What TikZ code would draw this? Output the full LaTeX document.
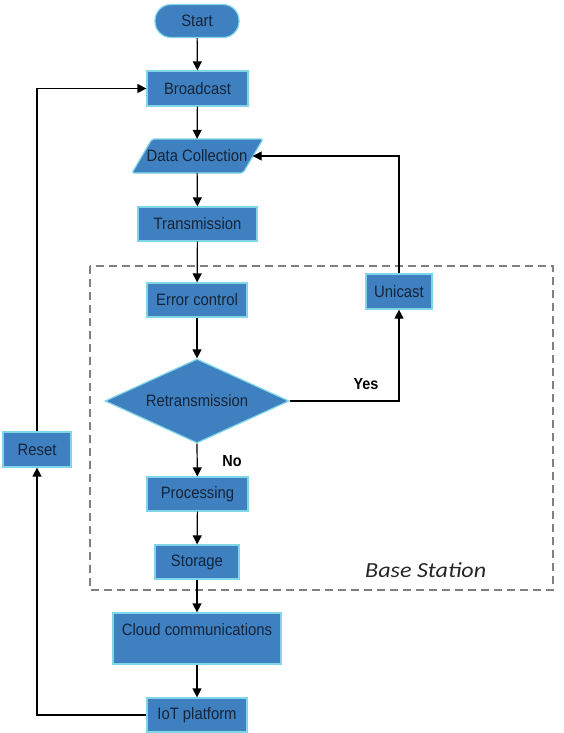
\documentclass[tikz,border=0pt]{standalone}
\usepackage{fontspec}
\setmainfont{Liberation Sans}[FakeStretch=0.9]
\newfontfamily\calib{Carlito}[FakeStretch=1.12]
\usetikzlibrary{arrows.meta,shapes.geometric}
\definecolor{boxfill}{HTML}{3F80C0}
\definecolor{boxline}{HTML}{7FD6E6}
\definecolor{boxtext}{HTML}{14243A}
\definecolor{dashgray}{HTML}{808080}
\tikzset{
  box/.style={draw=boxline, fill=boxfill, line width=1.2pt, inner sep=0pt,
    text=boxtext, font=\fontsize{16.5}{18}\selectfont},
  conn/.style={draw=black, line width=1.2pt, -{Triangle[length=9pt,width=9pt]}},
  lab/.style={font=\bfseries\fontsize{16}{18}\selectfont, text=black, inner sep=0pt},
}
\begin{document}
\begin{tikzpicture}[x=1pt,y=-1pt]
\useasboundingbox (0,0) rectangle (563,733);
% base station dashed frame
\draw[dashgray, line width=1.3pt, dash pattern=on 8pt off 5pt] (90,266) rectangle (553,590);
\node[font=\calib\itshape\fontsize{21.5}{24}\selectfont, text=black!85, anchor=base west, inner sep=0pt] (bs) at (365,577) {Base Station};

\node[box, rounded corners=16pt, minimum width=84pt, minimum height=33pt] (start) at (197,21) {Start};
\node[box, minimum width=101pt, minimum height=35pt] (bc) at (197.5,88.5) {Broadcast};
% data collection parallelogram
\node[minimum width=111pt, minimum height=34pt, inner sep=0pt] (dc) at (197,156) {};
\filldraw[draw=boxline, fill=boxfill, line width=1.2pt, rounded corners=2pt] (152,139) -- (263,139) -- (243,173) -- (132,173) -- cycle;
\node[text=boxtext, font=\fontsize{16.5}{18}\selectfont, inner sep=0pt] (dct) at (dc.center) {Data Collection};
\node[box, minimum width=119pt, minimum height=34pt] (tr) at (197.5,224) {Transmission};
\node[box, minimum width=100pt, minimum height=34pt] (ec) at (197,300) {Error control};
\node[box, minimum width=66pt, minimum height=35pt] (uc) at (399,291.5) {Unicast};
\node[box, diamond, aspect=2.19, minimum width=184pt, minimum height=84pt] (rt) at (197,401) {};
\node[text=boxtext, font=\fontsize{16.5}{18}\selectfont, inner sep=0pt] (rtt) at (rt.center) {Retransmission};
\node[box, minimum width=101pt, minimum height=34pt] (pr) at (197.5,494) {Processing};
\node[box, minimum width=84pt, minimum height=34pt] (st) at (197,562) {Storage};
\node[box, minimum width=168pt, minimum height=51pt, text height=12pt, text depth=18pt] (cc) at (197,638.5) {Cloud communications};
\node[box, minimum width=100pt, minimum height=34pt] (iot) at (197,715) {IoT platform};
\node[box, minimum width=68pt, minimum height=35pt] (rs) at (37,449.5) {Reset};

\draw[conn] (start) -- (bc);
\draw[conn] (bc) -- (dc);
\draw[conn] (dc) -- (tr);
\draw[conn] (tr) -- (ec);
\draw[conn] (ec) -- (rt);
\draw[conn] (rt.east) -| (uc.south);
\draw[conn] (uc.north) |- (dc.east);
\draw[conn] (rt.south) -- (pr);
\draw[conn] (pr) -- (st);
\draw[conn] (st) -- (cc);
\draw[conn] (cc) -- (iot);
\draw[conn] (iot.west) -| (rs.south);
\draw[conn] (rs.north) |- (bc.west);

\node[lab] (yes) at (366,384) {Yes};
\node[lab] (no) at (232,461) {No};
\end{tikzpicture}
\end{document}
